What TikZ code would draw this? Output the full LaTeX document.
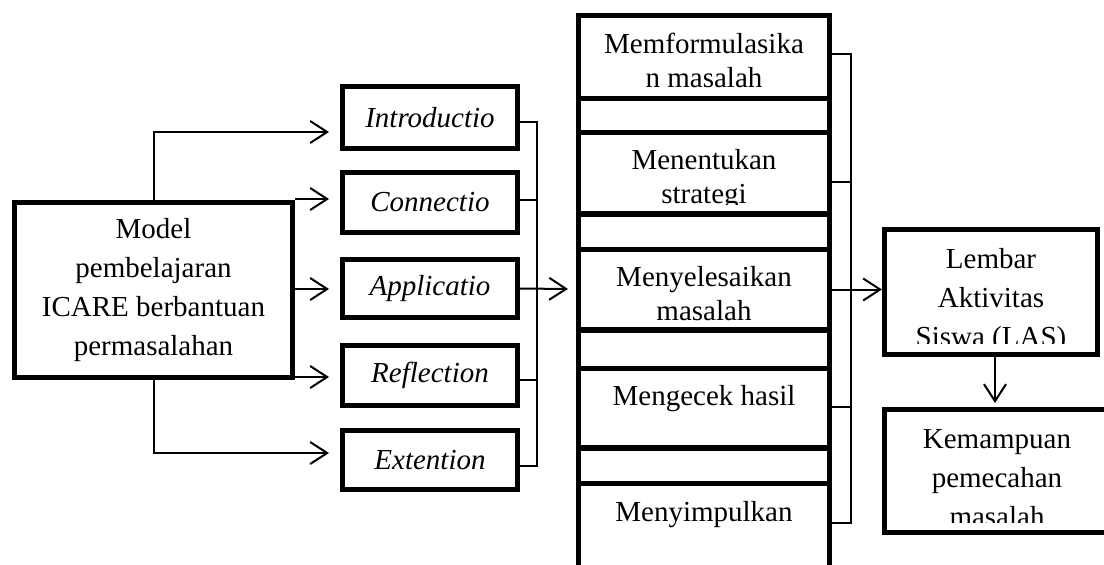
\documentclass[tikz,border=0pt]{standalone}
\usepackage{fontspec}
\setmainfont{Liberation Serif}
\usetikzlibrary{arrows.meta}
\begin{document}
\begin{tikzpicture}[x=1pt,y=-1pt,
  bx/.style={draw, line width=5pt, rectangle, inner sep=0pt},
  arr/.style={line width=2pt, -{Straight Barb[length=17pt,width=22pt]}},
  ln/.style={line width=1.6pt},
  txt/.style={inner sep=0pt, align=center, anchor=north},
  midtxt/.style={txt, font=\fontsize{29}{34}\selectfont},
  rtxt/.style={txt, font=\fontsize{29}{39}\selectfont},
  small/.style={bx, minimum width=175pt, font=\fontsize{29}{34}\selectfont\itshape},
  midbox/.style={bx, minimum width=251pt},
]
\clip (0,0) rectangle (1104,565);
\fill[white] (0,0) rectangle (1104,565);

% left model box
\node[bx, minimum width=278pt, minimum height=175pt, align=center,
      font=\fontsize{29}{38.7}\selectfont] (model) at (153.5,290)
      {Model\\pembelajaran\\ICARE berbantuan\\permasalahan};

% ICARE steps
\node[small, minimum height=62pt] (intro) at (430,117.5) {Introductio};
\node[small, minimum height=60pt] (conn)  at (430,202.5) {Connectio};
\node[small, minimum height=58pt] (appl)  at (430,288.5) {Applicatio};
\node[small, minimum height=60pt] (refl)  at (430,375.5) {Reflection};
\node[small, minimum height=59pt] (ext)   at (430,460)   {Extention};

% middle column
\node[midbox, minimum height=83pt] (m1) at (704,56.5) {};
\node[midbox, minimum height=81pt] (m2) at (704,173) {};
\node[midbox, minimum height=80pt] (m3) at (704,289.5) {};
\node[midbox, minimum height=79pt] (m4) at (704,408) {};
\node[midbox, minimum height=84pt] (m5) at (704,525.5) {};
\draw[line width=5pt] (578.5,98.5) rectangle (829.5,132.5);
\draw[line width=5pt] (578.5,214.5) rectangle (829.5,249.5);
\draw[line width=5pt] (578.5,330.5) rectangle (829.5,368.5);
\draw[line width=5pt] (578.5,448.5) rectangle (829.5,483.5);

\node[midtxt] (m1t) at (704,29) {\strut Memformulasika\\n masalah};
\begin{scope}
  \clip (581,134) rectangle (827,204);
  \node[midtxt] (m2t) at (704,145.2) {\strut Menentukan\\strategi};
\end{scope}
\node[midtxt] (m3t) at (704,262.2) {\strut Menyelesaikan\\masalah};
\node[midtxt] (m4t) at (704,381.2) {\strut Mengecek hasil};
\node[midtxt] (m5t) at (704,497.2) {\strut Menyimpulkan};

% right boxes
\node[bx, minimum width=213pt, minimum height=125pt] (las) at (991,292) {};
\begin{scope}
  \clip (884,229) rectangle (1098,343);
  \node[rtxt] (last) at (991,240.7) {\strut Lembar\\Aktivitas\\Siswa (LAS)};
\end{scope}
\node[bx, minimum width=223pt, minimum height=123pt] (kem) at (996,471) {};
\begin{scope}
  \clip (884,409) rectangle (1104,522);
  \node[rtxt] (kemt) at (997,420.7) {\strut Kemampuan\\pemecahan\\masalah};
\end{scope}

% arrows from model
\coordinate (t1) at (329,132);
\coordinate (t2) at (329,199);
\coordinate (t3) at (329,289);
\coordinate (t4) at (329,377);
\coordinate (t5) at (329,453);
\draw[arr] (model.north) |- (t1);
\draw[arr] (model.south) |- (t5);
\draw[arr] (model.east |- t2) -- (t2);
\draw[arr] (model.east |- t3) -- (t3);
\draw[arr] (model.east |- t4) -- (t4);

% left bracket
\coordinate (b1) at (537,122);
\coordinate (b2) at (537,200);
\coordinate (b4) at (537,380);
\coordinate (b5) at (537,466);
\coordinate (c3) at (568,289);
\draw[ln] (intro.east |- b1) -- (b1) -- (b5) -- (ext.east |- b5);
\draw[ln] (conn.east |- b2) -- (b2);
\draw[ln] (refl.east |- b4) -- (b4);
\draw[arr] (appl.east) -- (c3);

% right bracket
\coordinate (d1) at (851,54);
\coordinate (d2) at (851,182);
\coordinate (d4) at (851,407);
\coordinate (d5) at (851,523);
\draw[ln] (m1.east |- d1) -- (d1) -- (d5) -- (m5.east |- d5);
\draw[ln] (m2.east |- d2) -- (d2);
\draw[ln] (m4.east |- d4) -- (d4);
\draw[arr] (m3.east) -- (m3.east -| las.west);

% down arrow
\coordinate (e1) at (995,403);
\draw[arr] (las.south -| e1) -- (e1);
\end{tikzpicture}
\end{document}
